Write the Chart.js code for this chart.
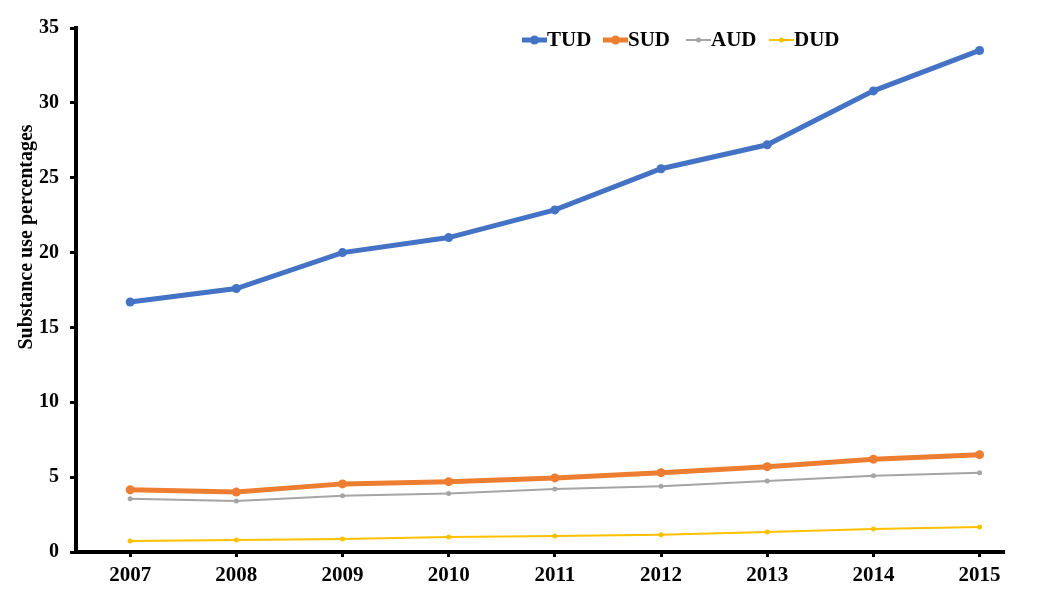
<!DOCTYPE html>
<html>
<head>
<meta charset="utf-8">
<script src="https://cdn.jsdelivr.net/npm/chart.js@4"></script>
<style>
  html, body { margin: 0; padding: 0; background: #ffffff; }
  #wrap { width: 1050px; height: 602px; }
</style>
</head>
<body>
<div id="wrap"><canvas id="chart" width="1050" height="602"></canvas></div>
<script>
// Data
const years = [2007, 2008, 2009, 2010, 2011, 2012, 2013, 2014, 2015];
const seriesNames = ['TUD', 'SUD', 'AUD', 'DUD'];
const tud = [16.7, 17.6, 20.0, 21.0, 22.85, 25.6, 27.2, 30.8, 33.5];
const sud = [4.15, 4.0, 4.55, 4.7, 4.95, 5.3, 5.7, 6.2, 6.5];
const aud = [3.55, 3.4, 3.75, 3.9, 4.2, 4.4, 4.75, 5.1, 5.3];
const dud = [0.73, 0.8, 0.87, 1.0, 1.07, 1.15, 1.33, 1.53, 1.67];
const yTicks = [0, 5, 10, 15, 20, 25, 30, 35];
const yTitle = 'Substance use percentages';

const serif = '"Liberation Serif", "Times New Roman", serif';

// Colors and line weights per series
const styles = [
    { color: '#4472C4', width: 5, radius: 4.5 },
    { color: '#ED7D31', width: 5, radius: 4.5 },
    { color: '#A5A5A5', width: 2, radius: 2.5 },
    { color: '#FFC000', width: 2, radius: 2.5 }
];

function toPoints(values) {
    return values.map((v, i) => ({ x: years[i], y: v }));
}

const datasets = [tud, sud, aud, dud].map((values, i) => ({
    label: seriesNames[i],
    data: toPoints(values),
    borderColor: styles[i].color,
    backgroundColor: styles[i].color,
    borderWidth: styles[i].width,
    pointRadius: styles[i].radius,
    pointBorderWidth: 0,
    pointHoverRadius: styles[i].radius,
    tension: 0
}));

// Legend drawn as line + dot, plus the y title placed like the reference
const decorations = {
    id: 'decorations',
    afterDraw(chart) {
        const ctx = chart.ctx;
        const xs = [522, 603, 686, 769];
        const y = 40;
        ctx.save();
        ctx.font = 'bold 21px ' + serif;
        ctx.textBaseline = 'middle';
        chart.data.datasets.forEach((ds, i) => {
            const x = xs[i];
            ctx.strokeStyle = ds.borderColor;
            ctx.lineWidth = ds.borderWidth;
            ctx.beginPath();
            ctx.moveTo(x, y);
            ctx.lineTo(x + 25, y);
            ctx.stroke();
            ctx.fillStyle = ds.borderColor;
            ctx.beginPath();
            ctx.arc(x + 12.5, y, ds.pointRadius, 0, Math.PI * 2);
            ctx.fill();
            ctx.fillStyle = '#000000';
            ctx.fillText(ds.label, x + 25, y + 1);
        });

        // rotated axis title
        ctx.translate(27, 237);
        ctx.rotate(-Math.PI / 2);
        ctx.font = 'bold 20px ' + serif;
        ctx.textAlign = 'center';
        ctx.fillText(yTitle, 0, 0);
        ctx.restore();
    }
};

new Chart(document.getElementById('chart'), {
    type: 'line',
    data: { datasets: datasets },
    plugins: [decorations],
    options: {
        responsive: false,
        animation: false,
        layout: { padding: { top: 28, right: 46, bottom: 0, left: 0 } },
        plugins: {
            legend: { display: false },
            tooltip: { enabled: false }
        },
        scales: {
            x: {
                type: 'linear',
                min: 2006.49,
                max: 2015.23,
                afterFit: (s) => { s.height = 50; },
                afterBuildTicks: (s) => { s.ticks = years.map(v => ({ value: v })); },
                ticks: {
                    callback: (v) => String(v),
                    color: '#000000',
                    font: { family: serif, size: 21, weight: 'bold' },
                    padding: 6,
                    maxRotation: 0
                },
                grid: {
                    drawOnChartArea: false,
                    drawTicks: true,
                    tickLength: 5,
                    tickWidth: 3,
                    tickColor: '#000000'
                },
                border: { display: true, color: '#000000', width: 4 }
            },
            y: {
                min: 0,
                max: 35,
                afterFit: (s) => { s.width = 76; },
                afterBuildTicks: (s) => { s.ticks = yTicks.map(v => ({ value: v })); },
                ticks: {
                    color: '#000000',
                    font: { family: serif, size: 20, weight: 'bold' },
                    padding: 11
                },
                grid: {
                    drawOnChartArea: false,
                    drawTicks: true,
                    tickLength: 6,
                    tickWidth: 3,
                    tickColor: '#000000'
                },
                border: { display: true, color: '#000000', width: 4 }
            }
        }
    }
});
</script>
</body>
</html>
